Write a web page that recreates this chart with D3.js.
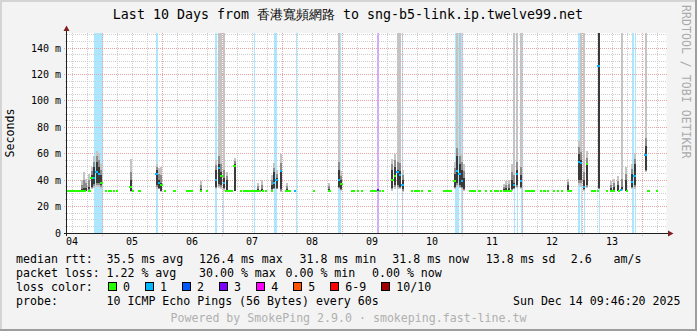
<!DOCTYPE html>
<html>
<head>
<meta charset="utf-8">
<script src="https://cdn.jsdelivr.net/npm/d3@7"></script>
<style>
body { margin: 0; background: #f3f3f3; }
svg text { font-family: "DejaVu Sans Mono", monospace; white-space: pre; }
</style>
</head>
<body>
<div id="chart"></div>
<script>
// times are days of December 2025 (fractional), rtt values in ms
var timeStart = 4.407, timeEnd = 14.407;
var dayLabels = ["04", "05", "06", "07", "08", "09", "10", "11", "12", "13"];
var rttTicks = [0, 20, 40, 60, 80, 100, 120, 140];
var rttMax = 151.4;

// median at the usual ~31.8 ms with no loss
var baselineRtt = 31.8;
var baselineTimes = [4.432, 4.474, 4.515, 4.557, 4.599, 4.640, 4.682, 4.715, 4.790, 5.069, 5.112, 5.152,
    5.195, 5.245, 5.515, 5.624, 6.052, 6.207, 6.412, 6.449, 6.487, 6.652, 6.752, 7.074, 7.112, 7.157,
    7.319, 7.374, 7.419, 7.457, 7.499, 7.540, 7.585, 7.624, 7.679, 7.735, 7.829, 8.069, 8.107, 8.135,
    8.529, 8.790, 9.162, 9.199, 9.262, 9.335, 9.485, 9.519, 9.557, 9.632, 9.679, 10.169, 10.224, 10.274,
    10.335, 10.457, 10.695, 10.732, 10.765, 10.807, 11.140, 11.179, 11.219, 11.290, 11.402, 11.485,
    11.553, 11.590, 11.652, 11.695, 11.735, 11.774, 11.812, 12.074, 12.124, 12.162, 12.199, 12.319,
    12.374, 12.429, 12.529, 12.595, 12.669, 12.762, 12.807, 13.165, 13.204, 13.262, 13.419, 13.485,
    13.524, 13.612, 13.745, 14.107, 14.245];

// [time, median ms, lost pings]
var medianPoints = [
    [4.824, 42, 0], [4.865, 42, 1], [4.907, 46, 1], [4.949, 45, 1], [4.990, 38, 0],
    [5.474, 35, 0], [5.907, 44.6, 1], [5.949, 37.8, 1], [5.990, 36.5, 0],
    [6.899, 40, 1], [6.949, 49, 1], [6.990, 43, 0], [7.032, 37.6, 1], [7.207, 51, 0],
    [7.865, 38, 1], [7.907, 40, 1], [7.982, 47, 1], [8.219, 32, 1],
    [8.949, 40, 1], [8.990, 37, 0], [9.595, 32.5, 3],
    [9.840, 40, 0], [9.882, 43, 0], [9.924, 46, 1], [9.965, 44, 1], [10.007, 36.6, 1],
    [10.874, 39.5, 0], [10.915, 47, 1], [10.957, 45, 1], [10.999, 39, 1],
    [11.865, 36.6, 1], [11.915, 45, 1], [11.982, 39, 1],
    [12.949, 54, 1], [12.982, 53, 1], [13.029, 35, 1], [13.082, 52, 0],
    [13.274, 126.4, 1], [13.652, 32.3, 1], [13.832, 38.6, 1], [13.874, 43, 1], [14.057, 59, 1]
];

// [time, low, dark low, dark high, high] of the ping spread (ms)
var smokeColumns = [
    [4.657, 32, 32, 33, 40], [4.699, 32, 32, 34, 46], [4.740, 32, 32, 34, 41], [4.782, 32, 33, 35, 45],
    [4.824, 33, 35, 44, 50], [4.865, 34, 37, 50, 58], [4.907, 35, 38, 54, 62], [4.949, 35, 38, 50, 60],
    [4.990, 33, 36, 44, 52], [5.474, 31, 32, 40, 56], [5.907, 33, 36, 48, 52], [5.949, 33, 34, 40, 49],
    [5.990, 31, 32, 38, 50], [6.652, 32, 32, 33, 39], [6.899, 33, 35, 48, 55], [6.949, 34, 37, 52, 200],
    [6.990, 33, 36, 46, 200], [7.032, 32, 34, 42, 200], [7.074, 32, 32, 40, 46], [7.207, 32, 32, 52, 57],
    [7.599, 32, 32, 33, 38], [7.657, 32, 32, 33, 40], [7.832, 32, 33, 36, 44], [7.865, 33, 34, 46, 53],
    [7.907, 33, 34, 42, 48], [7.982, 31, 33, 47, 60], [8.085, 32, 32, 33, 38], [8.790, 32, 32, 33, 38],
    [8.949, 33, 35, 48, 200], [8.990, 32, 33, 40, 47], [9.840, 32, 34, 48, 56], [9.882, 33, 36, 50, 60],
    [9.924, 33, 36, 48, 200], [9.965, 33, 35, 47, 200], [10.007, 31, 33, 40, 48], [10.874, 33, 35, 45, 54],
    [10.915, 35, 38, 58, 200], [10.957, 34, 36, 52, 200], [10.999, 33, 35, 48, 60], [11.040, 32, 33, 42, 52],
    [11.699, 32, 32, 33, 37], [11.740, 32, 32, 34, 39], [11.782, 32, 32, 34, 40], [11.824, 32, 33, 40, 52],
    [11.865, 33, 34, 38, 200], [11.915, 34, 36, 48, 200], [11.982, 33, 35, 44, 200], [12.762, 32, 32, 36, 41],
    [12.949, 36, 40, 60, 70], [12.982, 35, 40, 55, 200], [13.037, 32, 33, 40, 200], [13.082, 34, 36, 52, 62],
    [13.274, 33, 34, 200, 200], [13.482, 32, 32, 34, 39], [13.529, 32, 32, 35, 41], [13.599, 32, 32, 36, 43],
    [13.665, 32, 33, 35, 200], [13.740, 32, 32, 40, 50], [13.832, 33, 35, 45, 52], [13.874, 33, 36, 52, 60],
    [14.057, 46, 48, 66, 200]
];

// [from, to, lost pings]
var lossBars = [
    [4.857, 4.979, 1], [4.990, 5.007, 1], [5.899, 5.940, 1], [6.890, 6.912, 1], [7.020, 7.040, 1],
    [7.524, 7.545, 1], [7.857, 7.907, 1], [8.224, 8.245, 1], [8.932, 8.974, 1], [9.587, 9.607, 3],
    [9.907, 9.929, 1], [9.999, 10.020, 1], [10.890, 10.945, 1], [10.987, 11.007, 1], [11.865, 11.887, 1],
    [11.912, 11.934, 1], [11.990, 12.007, 1], [12.940, 12.957, 1], [12.979, 12.995, 1], [13.034, 13.050, 1],
    [13.277, 13.294, 1], [13.837, 13.857, 1], [13.879, 13.899, 1]
];

var lossLabels = ["0", "1", "2", "3", "4", "5", "6-9", "10/10"];
var lossColors = ["#26ff00", "#00b8ff", "#0059ff", "#7e00ff", "#ff00ff", "#ff5500", "#ff0000", "#a10000"];
var rttStats = ["35.5 ms avg", "126.4 ms max", "31.8 ms min", "31.8 ms now", "13.8 ms sd", "2.6", "am/s"];
var lossStats = ["1.22 % avg", "30.00 % max", "0.00 % min", "0.00 % now"];
var titleText = "Last 10 Days from 香港寬頻網路 to sng-b5-link.ip.twelve99.net";
var probeText = "10 ICMP Echo Pings (56 Bytes) every 60s";
var dateText = "Sun Dec 14 09:46:20 2025";
var poweredText = "Powered by SmokePing 2.9.0 · smokeping.fast-line.tw";

function lossIndex(n) {
    if (n >= 10) return 7;
    if (n >= 6) return 6;
    return n;
}

function SmokeChart() {
    var self = this;
    self.init();
}

SmokeChart.prototype.init = function () {
    var self = this;
    self.width = 697;
    self.height = 331;
    self.plot = {left: 66.5, right: 666.5, top: 33, bottom: 233};

    self.svg = d3.select("#chart").append("svg")
        .attr("width", self.width)
        .attr("height", self.height);

    self.x = d3.scaleLinear().domain([timeStart, timeEnd]).range([self.plot.left, self.plot.right]);
    self.y = d3.scaleLinear().domain([0, rttMax]).range([self.plot.bottom, self.plot.top]);
};

SmokeChart.prototype.drawFrame = function () {
    var self = this;
    var w = self.width, h = self.height;
    self.svg.append("rect").attr("width", w).attr("height", h).attr("fill", "#f3f3f3");
    // 3d border like rrdtool
    self.svg.append("path").attr("d", "M0,0H" + w + "V2H2V" + h + "H0Z").attr("fill", "#d4d4d4");
    self.svg.append("path").attr("d", "M" + w + "," + h + "H0V" + (h - 2) + "H" + (w - 2) + "V0H" + w + "Z").attr("fill", "#9e9e9e");

    self.svg.append("rect")
        .attr("x", self.plot.left).attr("y", self.plot.top)
        .attr("width", self.plot.right - self.plot.left)
        .attr("height", self.plot.bottom - self.plot.top)
        .attr("fill", "#ffffff");

    self.svg.append("clipPath").attr("id", "plotclip")
        .append("rect")
        .attr("x", self.plot.left).attr("y", self.plot.top)
        .attr("width", self.plot.right - self.plot.left)
        .attr("height", self.plot.bottom - self.plot.top);

    self.svg.append("text")
        .attr("x", 348).attr("y", 19)
        .attr("text-anchor", "middle")
        .style("font-size", "13.3px")
        .text(titleText);

    self.svg.append("text")
        .attr("transform", "translate(686,5) rotate(90)")
        .attr("x", 0).attr("y", 4)
        .style("font-size", "11.6px")
        .attr("fill", "#aaaaaa")
        .text("RRDTOOL / TOBI OETIKER");

    self.svg.append("text")
        .attr("transform", "translate(14,133) rotate(-90)")
        .attr("text-anchor", "middle")
        .style("font-size", "11.6px")
        .text("Seconds");
};

SmokeChart.prototype.drawLossBars = function () {
    var self = this;
    self.svg.append("g").attr("clip-path", "url(#plotclip)")
        .selectAll("rect").data(lossBars).enter().append("rect")
        .attr("x", d => self.x(d[0]))
        .attr("width", d => Math.max(1, self.x(d[1]) - self.x(d[0])))
        .attr("y", self.plot.top)
        .attr("height", self.plot.bottom - self.plot.top)
        .attr("fill", d => d3.interpolateRgb("#ffffff", lossColors[lossIndex(d[2])])(0.33))
        .attr("shape-rendering", "crispEdges");
};

SmokeChart.prototype.drawGrid = function () {
    var self = this;
    var g = self.svg.append("g").attr("shape-rendering", "crispEdges");

    var quarters = d3.range(Math.ceil(timeStart * 4), Math.floor(timeEnd * 4) + 1).map(d => d / 4);
    var minorX = quarters.filter(d => d % 1 != 0);
    var majorX = quarters.filter(d => d % 1 == 0);
    var fives = d3.range(5, rttMax, 5);
    var minorY = fives.filter(d => d % 20 != 0);
    var majorY = fives.filter(d => d % 20 == 0);

    function px(v) { return Math.floor(v) + 0.5; }

    g.selectAll(".minorx").data(minorX).enter().append("line")
        .attr("x1", d => px(self.x(d))).attr("x2", d => px(self.x(d)))
        .attr("y1", self.plot.top).attr("y2", self.plot.bottom + 2)
        .attr("stroke", "#cfcfcf").attr("stroke-dasharray", "1,1");
    g.selectAll(".minory").data(minorY).enter().append("line")
        .attr("y1", d => px(self.y(d))).attr("y2", d => px(self.y(d)))
        .attr("x1", self.plot.left - 2).attr("x2", self.plot.right)
        .attr("stroke", "#cfcfcf").attr("stroke-dasharray", "1,1");
    g.selectAll(".majorx").data(majorX).enter().append("line")
        .attr("x1", d => px(self.x(d))).attr("x2", d => px(self.x(d)))
        .attr("y1", self.plot.top).attr("y2", self.plot.bottom + 3)
        .attr("stroke", "#e7a4a4").attr("stroke-dasharray", "1,1");
    g.selectAll(".majory").data(majorY).enter().append("line")
        .attr("y1", d => px(self.y(d))).attr("y2", d => px(self.y(d)))
        .attr("x1", self.plot.left - 3).attr("x2", self.plot.right)
        .attr("stroke", "#e7a4a4").attr("stroke-dasharray", "1,1");
};

SmokeChart.prototype.drawSmoke = function () {
    var self = this;
    var g = self.svg.append("g").attr("clip-path", "url(#plotclip)").attr("shape-rendering", "crispEdges");
    var colW = 2;
    function band(lo, hi, color) {
        g.selectAll(null).data(smokeColumns).enter().append("rect")
            .attr("x", d => self.x(d[0]) - colW / 2)
            .attr("width", colW)
            .attr("y", d => self.y(hi(d)))
            .attr("height", d => Math.max(0, self.y(lo(d)) - self.y(hi(d))))
            .attr("fill", color);
    }
    band(d => d[1], d => d[4], "#c4c4c4");
    band(d => d[2] - Math.min(2, (d[2] - d[1]) / 2), d => d[3] + Math.min(6, (d[4] - d[3]) / 2), "#8c8c8c");
    band(d => d[2], d => d[3], "#3a3a3a");

    var points = baselineTimes.map(t => [t, baselineRtt, 0]).concat(medianPoints);
    var mg = self.svg.append("g").attr("clip-path", "url(#plotclip)").attr("shape-rendering", "crispEdges");
    mg.selectAll("rect").data(points).enter().append("rect")
        .attr("x", d => self.x(d[0]) - 1.25)
        .attr("width", 2.5)
        .attr("y", d => self.y(d[1]) - 1)
        .attr("height", 2)
        .attr("fill", d => lossColors[lossIndex(d[2])]);
};

SmokeChart.prototype.drawAxes = function () {
    var self = this;
    var p = self.plot;
    var g = self.svg.append("g");

    g.append("line").attr("x1", p.left - 3).attr("x2", p.right + 2)
        .attr("y1", p.bottom + 0.5).attr("y2", p.bottom + 0.5)
        .attr("stroke", "#1f1f1f").attr("shape-rendering", "crispEdges");
    g.append("line").attr("x1", p.left).attr("x2", p.left)
        .attr("y1", p.bottom + 3).attr("y2", p.top - 2)
        .attr("stroke", "#1f1f1f").attr("shape-rendering", "crispEdges");
    g.append("path").attr("d", "M" + (p.right + 1.5) + "," + (p.bottom - 2.5) + "L" + (p.right + 7) + "," + (p.bottom + 0.5) + "L" + (p.right + 1.5) + "," + (p.bottom + 3.5) + "Z")
        .attr("fill", "#7f1f1f");
    g.append("path").attr("d", "M" + (p.left - 3) + "," + (p.top - 2) + "L" + p.left + "," + (p.top - 7.5) + "L" + (p.left + 3) + "," + (p.top - 2) + "Z")
        .attr("fill", "#7f1f1f");

    g.selectAll(".ylab").data(rttTicks).enter().append("text")
        .attr("x", 61)
        .attr("y", d => self.y(d) + 3.5)
        .attr("text-anchor", "end")
        .style("font-size", "10px")
        .text(d => d == 0 ? "0" : d + " m");

    g.selectAll(".xlab").data(dayLabels).enter().append("text")
        .attr("x", d => self.x(+d + 0.5))
        .attr("y", 245)
        .attr("text-anchor", "middle")
        .style("font-size", "10px")
        .text(d => d);
};

SmokeChart.prototype.drawLegend = function () {
    var self = this;
    var g = self.svg.append("g").style("font-size", "11.6px");
    var rttX = [106.5, 199, 299.5, 392.3, 485.7, 570.7, 613.5];
    var lossX = [106.5, 199, 285.5, 372];
    var charW = 7.04;

    g.append("text").attr("x", 16).attr("y", 263).text("median rtt:");
    g.selectAll(".rtt").data(rttStats).enter().append("text")
        .attr("x", (d, i) => rttX[i]).attr("y", 263).text(d => d);

    g.append("text").attr("x", 16).attr("y", 277).text("packet loss:");
    g.selectAll(".loss").data(lossStats).enter().append("text")
        .attr("x", (d, i) => lossX[i]).attr("y", 277).text(d => d);

    g.append("text").attr("x", 16).attr("y", 290.5).text("loss color:");
    var bx = 108.5;
    lossLabels.forEach(function (label, i) {
        g.append("rect").attr("x", bx).attr("y", 282.5).attr("width", 8).attr("height", 8)
            .attr("fill", lossColors[i]).attr("stroke", "#000").attr("shape-rendering", "crispEdges");
        g.append("text").attr("x", bx + 14.5).attr("y", 290.5).text(label);
        bx = bx + 14.5 + label.length * charW + 15.5;
    });

    g.append("text").attr("x", 16).attr("y", 304.5).text("probe:");
    g.append("text").attr("x", 106.5).attr("y", 304.5).text(probeText);
    g.append("text").attr("x", 680.5).attr("y", 304.5).attr("text-anchor", "end").text(dateText);

    g.append("text").attr("x", 348.5).attr("y", 322).attr("text-anchor", "middle")
        .attr("fill", "#b0b0b0").text(poweredText);
};

var chart = new SmokeChart();
chart.drawFrame();
chart.drawLossBars();
chart.drawGrid();
chart.drawSmoke();
chart.drawAxes();
chart.drawLegend();
</script>
</body>
</html>
